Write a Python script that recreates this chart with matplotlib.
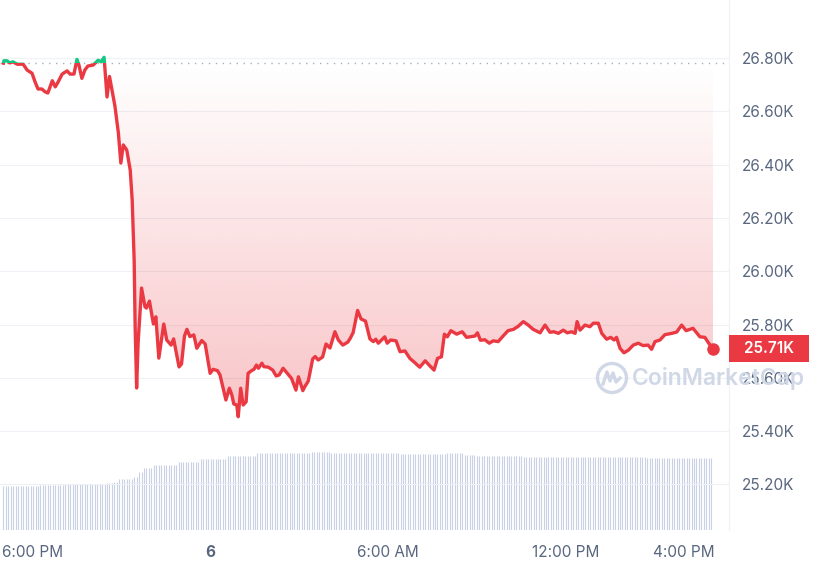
import numpy as np
import matplotlib
matplotlib.use("Agg")
import matplotlib.pyplot as plt
from matplotlib.patches import Rectangle, Circle
import matplotlib.transforms as mtransforms

plt.rcParams['font.family'] = ['Inter', 'DejaVu Sans']

# BTC price, minutes after 5:00 PM (Jun 5) -> USD
minutes = [0, 1, 7, 13, 19, 28, 40, 48, 58, 64, 70, 78, 84, 90, 99, 105, 111, 119, 129, 135,
           143, 149, 153, 159, 165, 171, 182, 192, 198, 204, 210, 215, 226, 233, 238, 243, 250, 257, 261, 265,
           267, 270, 273, 280, 287, 290, 296, 304, 309, 315, 325, 331, 340, 345, 356, 361, 367, 372, 378, 386,
           392, 402, 409, 419, 425, 434, 439, 451, 458, 463, 467, 473, 476, 481, 486, 492, 496, 503, 508, 513,
           517, 524, 528, 537, 546, 553, 559, 567, 578, 584, 593, 598, 607, 611, 618, 627, 632, 638, 647, 654,
           662, 672, 679, 688, 698, 703, 709, 718, 725, 734, 743, 750, 755, 760, 773, 778, 785, 796, 804, 814,
           824, 834, 844, 855, 865, 873, 880, 888, 894, 900, 907, 919, 930, 939, 956, 961, 967, 976, 985, 993,
           1003, 1013, 1023, 1034, 1044, 1054, 1064, 1074, 1088, 1098, 1108, 1116, 1125, 1135, 1143, 1152, 1159, 1163, 1169, 1179,
           1189, 1196, 1206, 1213, 1223, 1231, 1238, 1243, 1250, 1258, 1267, 1277, 1287, 1297, 1307, 1314, 1321, 1331, 1341, 1355,
           1365, 1375, 1384, 1398, 1412, 1422, 1431, 1439]
prices = [26781, 26790, 26790, 26782, 26786, 26777, 26777, 26755, 26743, 26711, 26684, 26684, 26674, 26669, 26715, 26692, 26711, 26740, 26752, 26740,
          26740, 26795, 26774, 26724, 26755, 26770, 26774, 26792, 26786, 26803, 26654, 26731, 26620, 26519, 26406, 26474, 26455, 26380, 26267, 26042,
          25791, 25562, 25731, 25937, 25866, 25862, 25888, 25802, 25829, 25674, 25802, 25742, 25723, 25746, 25641, 25652, 25757, 25782, 25755, 25761,
          25711, 25740, 25727, 25617, 25632, 25627, 25611, 25517, 25561, 25536, 25502, 25498, 25454, 25561, 25498, 25510, 25617, 25627, 25632, 25648,
          25636, 25655, 25642, 25640, 25629, 25607, 25611, 25636, 25611, 25598, 25554, 25604, 25552, 25567, 25588, 25671, 25680, 25667, 25678, 25727,
          25712, 25773, 25742, 25723, 25734, 25748, 25770, 25853, 25821, 25813, 25746, 25736, 25745, 25730, 25754, 25730, 25742, 25739, 25698, 25701,
          25673, 25657, 25640, 25664, 25644, 25629, 25673, 25679, 25764, 25754, 25777, 25764, 25773, 25752, 25757, 25769, 25741, 25743, 25730, 25739,
          25736, 25757, 25777, 25782, 25794, 25811, 25798, 25782, 25769, 25798, 25771, 25773, 25767, 25779, 25769, 25773, 25767, 25811, 25779, 25798,
          25792, 25805, 25805, 25767, 25745, 25752, 25742, 25752, 25711, 25694, 25704, 25723, 25730, 25721, 25723, 25707, 25736, 25742, 25762, 25767,
          25772, 25798, 25777, 25786, 25754, 25752, 25727, 25710]

# 24h volume (billions USD), one bar every 5 min, stored as level / number of bars
vol_levels = [10.8, 11.0, 11.3, 11.6, 11.8, 12.4, 13.1, 14.3, 15.2, 15.9, 16.7, 17.4, 18.1, 18.8, 19.2,
              18.8, 18.6, 18.8, 18.4, 18.1, 17.8, 17.6]
vol_counts = [15, 10, 17, 3, 2, 6, 2, 2, 4, 10, 9, 11, 12, 22, 8, 28, 19, 7, 5, 19, 50, 27]

x_tick_minutes = [60, 420, 780, 1140, 1380]
x_tick_labels = ["6:00 PM", "6", "6:00 AM", "12:00 PM", "4:00 PM"]
y_ticks = [25200, 25400, 25600, 25800, 26000, 26200, 26400, 26600, 26800]
y_tick_labels = ["25.20K", "25.40K", "25.60K", "25.80K", "26.00K", "26.20K", "26.40K", "26.60K", "26.80K"]

RED = '#ea3943'
GREEN = '#16c784'
GREY = '#58667e'

t = np.array(minutes, dtype=float)
p = np.array(prices, dtype=float)
base = p[0]
vols = np.repeat(vol_levels, vol_counts)
vt = np.arange(len(vols)) * 5

fig = plt.figure(figsize=(8.13, 5.70), dpi=100)
ax = fig.add_axes([0, 40 / 570, 729 / 813, 530 / 570])

# volume bars behind the price
axv = ax.twinx()
axv.vlines(vt, 0, vols, color='#c9d1e6', lw=0.8)
axv.set_ylim(0, 130)
axv.set_axis_off()
ax.set_zorder(axv.get_zorder() + 1)
ax.patch.set_visible(False)

# grid
for yt in y_ticks:
    ax.axhline(yt, color='#eef1f5', lw=0.8, zorder=0)

# gradient fill between the line and the opening price
poly = ax.fill_between(t, p, base, facecolor='none', edgecolor='none')
grad = np.zeros((256, 1, 4))
grad[:, 0, 0] = 234 / 255
grad[:, 0, 1] = 57 / 255
grad[:, 0, 2] = 67 / 255
grad[:, 0, 3] = np.linspace(0.30, 0.0, 256)
im = ax.imshow(grad, extent=[t[0], t[-1], p.min(), base], origin='lower',
               aspect='auto', zorder=1)
im.set_clip_path(poly.get_paths()[0], transform=ax.transData)

# open price reference
ax.axhline(base, color='#a5afc0', lw=1, linestyle=(0, (1, 4)), zorder=2)

# line: red below the open, green above
red_line, = ax.plot(t, p, color=RED, lw=2.4, solid_joinstyle='round', zorder=3)
green_line, = ax.plot(t, p, color=GREEN, lw=2.4, solid_joinstyle='round', zorder=3)
below = Rectangle((-100, 20000), 2000, base - 20000, transform=ax.transData)
above = Rectangle((-100, base), 2000, 10000, transform=ax.transData)
red_line.set_clip_path(below)
green_line.set_clip_path(above)
ax.plot(t[-1], p[-1], 'o', color=RED, ms=8, zorder=4)

ax.set_xlim(-7, 1471)
ax.set_ylim(25029, 27018)

ax.yaxis.tick_right()
ax.set_yticks(y_ticks, y_tick_labels)
ax.set_xticks(x_tick_minutes, x_tick_labels)
ax.tick_params(axis='y', length=0, pad=9, labelsize=11, labelcolor=GREY)
ax.tick_params(axis='x', length=0, pad=11, labelsize=11, labelcolor=GREY)
ax.get_xticklabels()[1].set_fontweight('bold')
for s in ['top', 'left', 'bottom']:
    ax.spines[s].set_visible(False)
ax.spines['right'].set_color('#eff2f5')

# current price tag
trans = mtransforms.blended_transform_factory(ax.transAxes, ax.transData)
ax.add_patch(Rectangle((1.0, p[-1] - 52), 80 / 729, 104, transform=trans,
                       facecolor=RED, edgecolor='none', clip_on=False, zorder=5))
ax.text(1.0 + 40 / 729, p[-1], "%.2fK" % (p[-1] / 1000), transform=trans, ha='center',
        va='center', color='white', fontsize=11, fontweight='semibold', zorder=6)

# watermark
wm = '#d0d7e6'
fig.text(632 / 813, 1 - 379 / 570, "CoinMarketCap", fontsize=16.5, fontweight='semibold',
         color=wm, ha='left', va='center', zorder=10)
fig.patches.append(Circle((6.12, 1.92), 0.145, transform=fig.dpi_scale_trans,
                          fill=False, lw=2.4, ec=wm, zorder=10))
fig.lines.append(plt.Line2D([6.03, 6.07, 6.10, 6.13, 6.16, 6.2], [1.86, 1.98, 1.89, 1.97, 1.88, 1.92],
                            transform=fig.dpi_scale_trans, color=wm, lw=2.4, zorder=10))

fig.savefig("out.png", dpi=100, facecolor='white')
